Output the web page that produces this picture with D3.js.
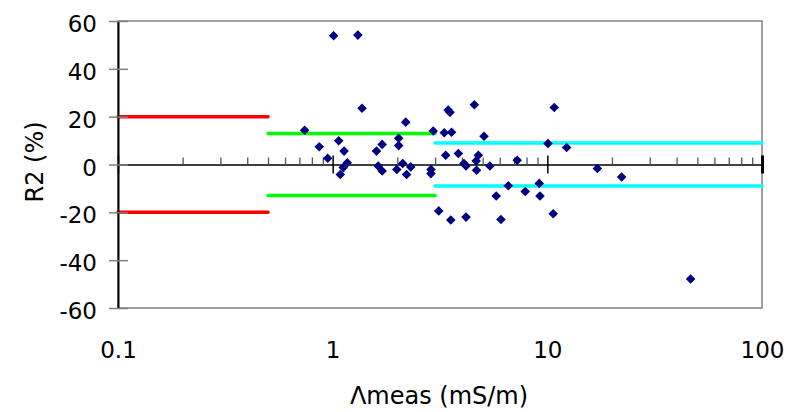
<!DOCTYPE html>
<html><head><meta charset="utf-8">
<script src="https://cdn.jsdelivr.net/npm/d3@7"></script>
<style>
html,body{margin:0;padding:0;background:#fff;}
text{font-family:"DejaVu Sans",Verdana,sans-serif;fill:#000;}
</style></head>
<body><svg id="c" width="791" height="412"></svg>
<script>
// ---- data ----
const lambdaMeas = [0.740,0.866,0.948,1.01,1.067,1.13,1.17,1.12,1.085,1.31,1.37,1.60,1.70,1.63,1.70,1.99,2.03,2.03,2.19,2.12,2.31,2.21,2.87,2.87,2.94,3.31,3.58,3.45,3.52,3.36,3.85,4.09,4.18,4.77,4.66,4.68,4.57,5.07,5.40,3.12,3.55,4.18,5.78,6.08,6.58,7.24,7.89,9.17,9.24,10.07,10.65,10.77,12.3,17.1,22.2,46.5];
const r2Values   = [14.3,7.4,2.6,53.8,9.9,5.6,0.7,-1.3,-4.2,54.1,23.5,5.6,8.4,-0.6,-2.7,-2.1,11.0,7.9,17.7,0.4,-1.0,-4.2,-2.1,-3.8,14.0,13.3,13.5,22.8,21.8,3.9,4.6,0.4,-0.6,3.9,1.5,-2.4,25.0,11.8,-0.6,-19.4,-23.2,-22.0,-13.2,-23.0,-8.9,1.8,-11.3,-7.9,-13.2,8.8,-20.6,23.8,7.1,-1.7,-5.2,-47.9];
const limitFrom  = [0.1, 0.5, 3];
const limitTo    = [0.5, 3, 100];
const limitValue = [20, 13, 9];
const limitColor = ["#ff0000", "#00ff00", "#00ffff"];
const xMajorTicks = [0.1, 1, 10, 100];
const xTickLabels = ["0.1", "1", "10", "100"];
const yTicks = [-60, -40, -20, 0, 20, 40, 60];
const yTickLabels = ["-60", "-40", "-20", "0", "20", "40", "60"];
const xTitle = "Λmeas (mS/m)";
const yTitle = "R2 (%)";

// ---- chart ----
const svg = d3.select("#c");
const L = 118, R = 762, T = 21, B = 308;
const x = d3.scaleLog().domain([0.1, 100]).range([L, R]);
const y = d3.scaleLinear().domain([-60, 60]).range([B, T]);

// frame
svg.append("rect").attr("x", L).attr("y", T).attr("width", R - L).attr("height", B - T)
  .attr("fill", "none").attr("stroke", "#808080").attr("stroke-width", 1.5);

// limit lines
const lim = limitValue.map((v, i) => ({from: limitFrom[i], to: limitTo[i], v, c: limitColor[i]}));
lim.forEach(d => {
  [d.v, -d.v].forEach(v => {
    svg.append("line").attr("x1", x(d.from)).attr("x2", x(d.to))
      .attr("y1", y(v)).attr("y2", y(v))
      .attr("stroke", d.c).attr("stroke-width", 3.5).attr("stroke-linecap", "round");
  });
});

// x axis at zero with log minor ticks
const minor = [];
for (let e = -1; e < 2; e++) for (let k = 2; k <= 9; k++) minor.push(k * Math.pow(10, e));
const xAxisZero = svg.append("g").attr("transform", `translate(0,${y(0)})`)
  .call(d3.axisBottom(x).tickValues(minor).tickSize(-7).tickFormat("").tickSizeOuter(0));
xAxisZero.select(".domain").attr("stroke", "#000").attr("stroke-width", 1.5);
xAxisZero.selectAll(".tick line").attr("stroke", "#555").attr("stroke-width", 1.3);
const xMaj = svg.append("g").attr("transform", `translate(0,${y(0)})`)
  .call(d3.axisBottom(x).tickValues(xMajorTicks).tickSize(9).tickFormat("").tickSizeOuter(0));
xMaj.select(".domain").remove();
xMaj.selectAll(".tick line").attr("y1", -9).attr("y2", 9).attr("stroke", "#000").attr("stroke-width", 1.5);
xMaj.selectAll(".tick").filter(d => d === 100).select("line").attr("stroke-width", 3);

// x tick labels at bottom
const xLab = svg.append("g").attr("transform", `translate(0,${B})`)
  .call(d3.axisBottom(x).tickValues(xMajorTicks).tickSize(0).tickPadding(0)
    .tickFormat((d, i) => xTickLabels[i]));
xLab.select(".domain").remove();
xLab.selectAll("text").attr("y", 50).attr("dy", 0).attr("font-size", 23)
  .attr("font-family", "DejaVu Sans");

// y axis
const yAx = svg.append("g").attr("transform", `translate(${L},0)`)
  .call(d3.axisLeft(y).tickValues(yTicks).tickSize(9).tickPadding(12).tickSizeOuter(0)
    .tickFormat((d, i) => yTickLabels[i]));
yAx.select(".domain").attr("stroke", "#000").attr("stroke-width", 2);
yAx.selectAll(".tick line").attr("x1", 10).attr("x2", -9).attr("stroke", "#808080").attr("stroke-width", 1.5);
yAx.selectAll(".tick text").attr("dy", "0.46em").attr("font-size", 23).attr("font-family", "DejaVu Sans");

// points
const pts = lambdaMeas.map((v, i) => ({x: v, y: r2Values[i]}));
svg.append("g").selectAll("path").data(pts).join("path")
  .attr("d", d3.symbol(d3.symbolSquare, 46))
  .attr("transform", d => `translate(${x(d.x)},${y(d.y)}) rotate(45)`)
  .attr("fill", "#000080");

// titles
svg.append("text").attr("x", 439).attr("y", 404).attr("text-anchor", "middle")
  .attr("font-size", 24).text(xTitle);
svg.append("text").attr("transform", "translate(43,162) rotate(-90)").attr("text-anchor", "middle")
  .attr("font-size", 24).text(yTitle);
</script></body></html>
